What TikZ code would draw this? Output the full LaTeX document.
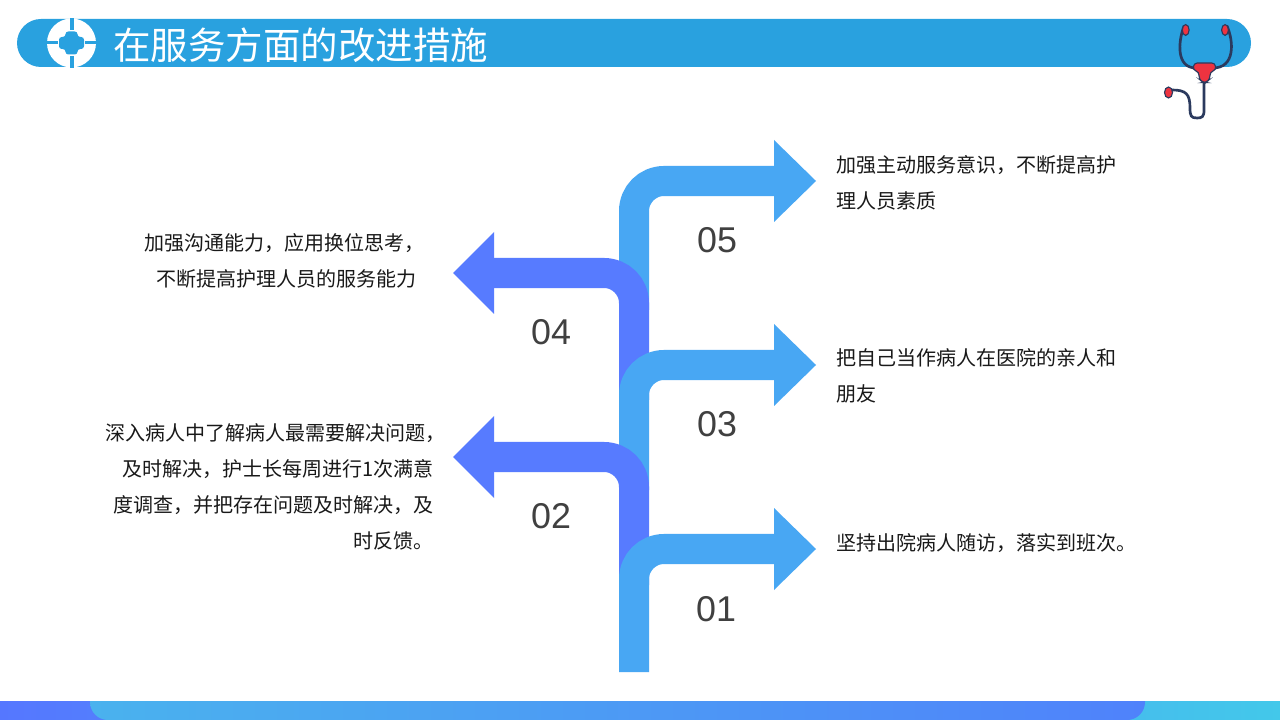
\documentclass[tikz,border=0pt]{standalone}
\usepackage{fontspec}
\usepackage{xcolor}
\setmainfont{Noto Sans CJK SC}
\newfontfamily\numfont{Liberation Sans}
\definecolor{headblue}{HTML}{29A1DF}
\definecolor{lightarrow}{HTML}{48A7F3}
\definecolor{darkarrow}{HTML}{577BFF}
\definecolor{numgrey}{HTML}{404040}
\definecolor{tubedark}{HTML}{2B3A5E}
\definecolor{earred}{HTML}{EE3340}
\definecolor{bandleft}{HTML}{5577FF}
\definecolor{bandright}{HTML}{43C8EA}
\definecolor{overleft}{HTML}{4AB2EE}
\definecolor{overright}{HTML}{4F82FB}
\tikzset{
  stemline/.style={line width=0.75cm, rounded corners=0.75cm},
  numlabel/.style={text=numgrey, font=\numfont\fontsize{25.5}{30}\selectfont},
  bodytext/.style={text=black!90, inner sep=0pt, font=\fontsize{14.23}{25.6}\selectfont},
  tube/.style={draw=tubedark, line width=1.9pt, line cap=round},
  redpart/.style={fill=earred, draw=tubedark, line width=0.8pt}
}
\begin{document}
\begin{tikzpicture}[x=0.025cm, y=-0.025cm]
  \useasboundingbox (0,0) rectangle (1280,720);
  \fill[white] (0,0) rectangle (1280,720);

  % header bar
  \fill[headblue, rounded corners=0.6cm] (17,19) rectangle (1251,67);
  \node[text=white, anchor=west, inner sep=0pt, font=\fontsize{26.65}{30}\selectfont] (title) at (113,45) {在服务方面的改进措施};

  % round badge
  \fill[white] (71.5,43) circle (24.5);
  \foreach \a in {0,180}
    \fill[headblue, rotate around={\a:(71.5,43)}] (69.5,18) rectangle (73.5,30);
  \foreach \a in {90,270}
    \fill[headblue, rotate around={\a:(71.5,43)}] (70,18) rectangle (73,29.5);
  \fill[headblue, rounded corners=0.07cm] (65.5,31.5) -- (77.5,31.5) -- (77.5,37) -- (84,37) -- (84,49) -- (77.5,49) -- (77.5,54.5) -- (65.5,54.5) -- (65.5,49) -- (59,49) -- (59,37) -- (65.5,37) -- cycle;

  % stethoscope
  \draw[tube] (1184,26) .. controls (1178,42) and (1176,68) .. (1196,68);
  \draw[tube] (1227,26) .. controls (1234,42) and (1235,68) .. (1213,68);
  \draw[tube] (1204,80) -- (1204,110) .. controls (1204,117) and (1202,118) .. (1197,118) .. controls (1191,118) and (1190,116) .. (1190,108) .. controls (1190,94) and (1186,90) .. (1172,90);
  \draw[redpart, rounded corners=0.08cm] (1194,63) -- (1215,63) -- (1216,70) -- (1210,72) -- (1210,79) -- (1206,82.5) -- (1203,82.5) -- (1199,79) -- (1199,72) -- (1193,70) -- cycle;
  \draw[redpart] (1185.7,30) ellipse (3.4 and 5.4);
  \draw[redpart] (1225,30) ellipse (3.4 and 5.4);
  \draw[redpart] (1168.5,92.5) ellipse (4 and 5.5);

  % arrows, top one first
  \draw[stemline, draw=lightarrow] (634,310) -- (634,181) -- (776,181);
  \fill[lightarrow] (774,140) -- (816,181) -- (774,222) -- cycle;
  \draw[stemline, draw=darkarrow] (634,400) -- (634,273) -- (492,273);
  \fill[darkarrow] (494,232) -- (453,273) -- (494,314) -- cycle;
  \draw[stemline, draw=lightarrow] (634,490) -- (634,365) -- (776,365);
  \fill[lightarrow] (774,324) -- (816,365) -- (774,406) -- cycle;
  \draw[stemline, draw=darkarrow] (634,585) -- (634,457) -- (492,457);
  \fill[darkarrow] (494,416) -- (453,457) -- (494,498) -- cycle;
  \draw[stemline, draw=lightarrow] (634,672) -- (634,549) -- (776,549);
  \fill[lightarrow] (774,508) -- (816,549) -- (774,590) -- cycle;

  % numbers
  \node[numlabel] (num05) at (717,240) {05};
  \node[numlabel] (num04) at (551,332) {04};
  \node[numlabel] (num03) at (717,424) {03};
  \node[numlabel] (num02) at (551,516) {02};
  \node[numlabel] (num01) at (716,609) {01};

  % right texts
  \node[bodytext, anchor=west, align=left] (txt05) at (836,183) {加强主动服务意识，不断提高护\\理人员素质};
  \node[bodytext, anchor=west, align=left] (txt03) at (836,376) {把自己当作病人在医院的亲人和\\朋友};
  \node[bodytext, anchor=west, align=left] (txt01) at (836,543) {坚持出院病人随访，落实到班次。};

  % left texts
  \node[bodytext, anchor=east, align=right] (txt04) at (417,261) {加强沟通能力，应用换位思考，\kern-0.2cm\\不断提高护理人员的服务能力};
  \node[bodytext, anchor=east, align=right] (txt02) at (434,487) {深入病人中了解病人最需要解决问题，\kern-0.3cm\\及时解决，护士长每周进行1次满意\\度调查，并把存在问题及时解决，及\\时反馈。};

  % bottom band
  \shade[left color=bandleft, right color=bandright] (0,701) rectangle (1280,720);
  \shade[left color=overleft, right color=overright, rounded corners=0.45cm] (90,701) -- (90,720) -- (1145,720) [sharp corners] -- (1145,701) -- cycle;
\end{tikzpicture}
\end{document}
